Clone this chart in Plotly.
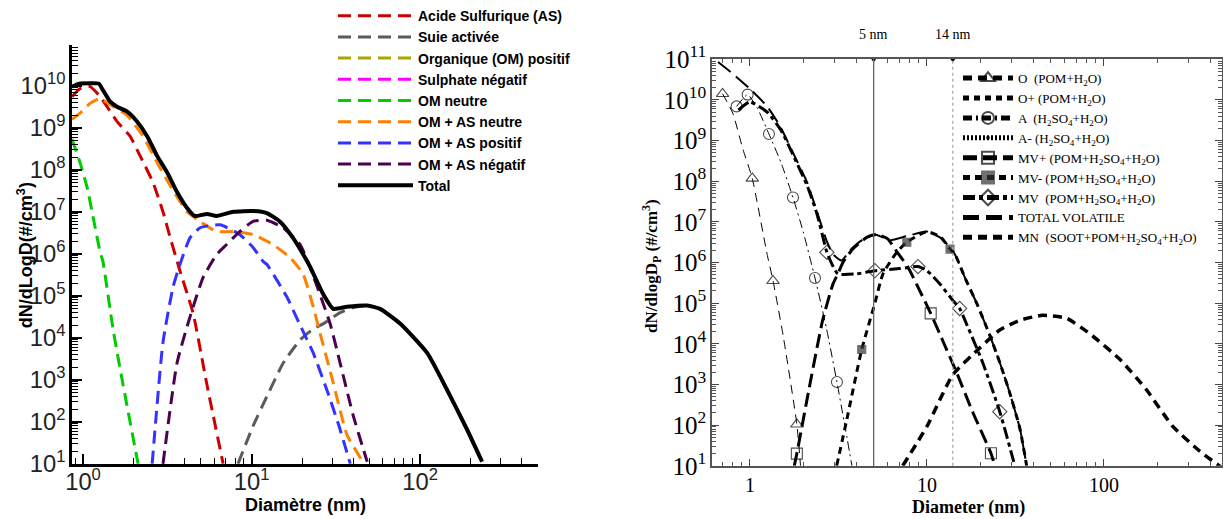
import numpy as np
import plotly.graph_objects as go

W, H = 1223, 519

# ---------------- Left panel data (diameter nm, log10 dN/dlogD) ----------------
as_d = [0.86, 0.96, 1.10, 1.26, 1.39, 1.59, 1.90, 2.18, 2.60, 2.98, 3.28, 3.76, 4.50, 5.44, 6.78]
as_log = [9.74, 9.93, 9.98, 9.75, 9.50, 9.15, 8.80, 8.33, 7.70, 7.00, 6.40, 5.59, 4.58, 2.87, 1.00]

suie_d = [8.3, 10.2, 12.3, 15.4, 19.4, 23.0, 27.0, 33.5, 40.0, 48.5, 57.8, 76.0, 110.0, 144.0, 189.0, 233.0]
suie_log = [1.00, 1.90, 2.60, 3.40, 3.95, 4.20, 4.35, 4.60, 4.72, 4.77, 4.69, 4.34, 3.64, 2.77, 1.83, 1.05]

omp_d, omp_log = [None], [None]      # Organique (OM) positif : not visible in range
sulf_d, sulf_log = [None], [None]    # Sulphate négatif : not visible in range

omn_d = [0.86, 0.96, 1.06, 1.15, 1.26, 1.31, 1.51, 1.73, 2.12]
omn_log = [8.73, 8.17, 7.56, 6.85, 6.06, 5.83, 4.18, 2.87, 1.00]

omas_n_d = [0.86, 0.96, 1.10, 1.26, 1.45, 1.82, 2.27, 2.75, 3.28, 4.14, 4.95, 6.2, 7.8, 10.2, 13.4, 16.9, 20.2, 23.2, 25.5, 30.5, 36.8, 45.7]
omas_n_log = [9.20, 9.35, 9.58, 9.70, 9.55, 9.30, 8.80, 8.17, 7.63, 7.00, 6.77, 6.53, 6.53, 6.46, 6.22, 5.91, 5.52, 4.74, 4.10, 2.93, 1.69, 1.05]

omas_p_d = [2.57, 2.98, 3.42, 3.76, 4.31, 4.95, 6.5, 8.5, 10.2, 11.7, 12.3, 16.2, 19.4, 23.2, 28.3, 33.0, 38.5]
omas_p_log = [1.00, 3.89, 5.21, 5.75, 6.38, 6.62, 6.69, 6.46, 6.15, 5.82, 5.75, 4.97, 4.30, 3.64, 2.70, 1.90, 1.00]

omas_m_d = [2.98, 3.61, 4.31, 5.16, 6.2, 7.1, 8.5, 10.2, 12.3, 15.4, 19.4, 22.2, 29.2, 33.5, 40.0, 48.5]
omas_m_log = [1.00, 3.40, 4.50, 5.44, 5.98, 6.22, 6.53, 6.77, 6.80, 6.62, 6.22, 5.68, 4.34, 3.40, 2.16, 1.05]

tot_d = [0.86, 0.95, 1.10, 1.24, 1.31, 1.45, 1.59, 1.82, 2.09, 2.40, 2.75, 3.15, 3.61, 4.14, 4.60, 5.44, 6.2, 7.8, 10.2, 12.3, 14.7, 17.6, 21.3, 22.3, 26.5, 30.5, 36.8, 48.5, 57.8, 76.0, 110.0, 144.0, 189.0, 233.0]
tot_log = [9.98, 10.05, 10.06, 10.05, 9.90, 9.62, 9.50, 9.39, 9.15, 8.80, 8.33, 7.94, 7.47, 7.09, 6.90, 6.95, 6.90, 7.00, 7.02, 6.97, 6.77, 6.38, 5.83, 5.68, 5.05, 4.69, 4.74, 4.77, 4.69, 4.34, 3.64, 2.77, 1.83, 1.05]

left_names = ["Acide Sulfurique (AS)", "Suie activée", "Organique (OM) positif", "Sulphate négatif",
              "OM neutre", "OM + AS neutre", "OM + AS positif", "OM + AS négatif"]

# ---------------- Right panel data (diameter nm, log10 dN/dlogDp) ----------------
o_d = [0.70, 0.80, 0.91, 1.03, 1.25, 1.35, 1.54, 1.84, 1.93]
o_log = [10.15, 9.67, 8.80, 8.07, 6.20, 5.55, 4.20, 2.02, 1.00]
o_mk_d = [0.70, 1.03, 1.35, 1.84]

a_d = [0.84, 0.97, 1.10, 1.28, 1.50, 1.75, 2.00, 2.33, 2.70, 3.10, 3.40, 3.77]
a_log = [9.84, 10.13, 9.80, 9.16, 8.45, 7.60, 6.75, 5.62, 4.40, 3.06, 2.10, 1.00]
a_mk_d = [0.84, 0.97, 1.28, 1.75, 2.33, 3.10]

oplus_d, oplus_log, oplus_mk_d = [None], [None], []
aminus_d, aminus_log, aminus_mk_d = [None], [None], []

mvp_d = [1.78, 1.84, 2.18, 2.58, 2.95, 3.14, 3.35, 3.81, 4.57, 5.2, 6.0, 6.8, 7.8, 9.1, 10.5, 12.3, 14.7, 18.1, 23.0, 24.2]
mvp_log = [1.00, 1.30, 3.00, 4.60, 5.48, 5.72, 6.00, 6.33, 6.62, 6.69, 6.58, 6.25, 5.89, 5.31, 4.75, 4.07, 3.30, 2.33, 1.31, 1.00]
mvp_mk_d = [1.84, 10.5, 23.0]

mvm_d = [3.09, 3.51, 4.28, 5.08, 5.64, 6.75, 7.7, 10.0, 12.0, 13.5, 14.4, 16.5, 19.1, 22.7, 25.8, 29.3, 33.5, 36.6]
mvm_log = [1.00, 2.10, 3.86, 5.00, 5.72, 6.25, 6.50, 6.76, 6.62, 6.33, 6.20, 5.60, 5.00, 4.20, 3.54, 2.81, 1.92, 1.00]
mvm_mk_d = [4.28, 7.7, 13.5]

mv_d = [0.86, 1.00, 1.25, 1.50, 1.75, 2.10, 2.39, 2.72, 2.95, 3.14, 4.0, 5.08, 7.0, 8.9, 10.0, 11.8, 14.0, 15.3, 16.7, 20.7, 25.8, 31.4]
mv_log = [9.75, 9.95, 9.70, 9.25, 8.65, 7.90, 7.20, 6.25, 5.90, 5.72, 5.72, 5.80, 5.85, 5.90, 5.80, 5.48, 5.07, 4.87, 4.50, 3.53, 2.33, 1.00]
mv_mk_d = [2.72, 5.08, 8.9, 15.3, 25.8]

tv_d = [0.66, 0.80, 1.00, 1.25, 1.48, 1.75, 2.10, 2.39, 2.72, 2.95, 3.30, 3.67, 4.30, 5.08, 6.2, 7.7, 10.0, 12.0, 13.5, 14.4, 16.5, 19.1, 22.7, 25.8, 29.3, 33.5, 36.6]
tv_log = [10.93, 10.64, 10.27, 9.84, 9.35, 8.70, 7.98, 7.25, 6.52, 6.20, 6.05, 6.30, 6.55, 6.69, 6.55, 6.65, 6.76, 6.60, 6.37, 6.20, 5.60, 5.00, 4.20, 3.54, 2.81, 1.92, 1.00]

mn_d = [7.3, 10.0, 14.0, 19.9, 25.8, 33.5, 45.0, 61.5, 86.0, 123.0, 174.0, 245.0, 348.0, 465.0]
mn_log = [1.00, 1.97, 3.24, 3.90, 4.34, 4.58, 4.70, 4.63, 4.20, 3.62, 2.87, 1.97, 1.36, 0.95]

ref_diams = [5, 14]
ref_labels = ["5 nm", "14 nm"]

right_names = ["O  (POM+H<sub>2</sub>O)", "O+ (POM+H<sub>2</sub>O)", "A  (H<sub>2</sub>SO<sub>4</sub>+H<sub>2</sub>O)",
               "A- (H<sub>2</sub>SO<sub>4</sub>+H<sub>2</sub>O)", "MV+ (POM+H<sub>2</sub>SO<sub>4</sub>+H<sub>2</sub>O)",
               "MV- (POM+H<sub>2</sub>SO<sub>4</sub>+H<sub>2</sub>O)", "MV  (POM+H<sub>2</sub>SO<sub>4</sub>+H<sub>2</sub>O)",
               "TOTAL VOLATILE", "MN  (SOOT+POM+H<sub>2</sub>SO<sub>4</sub>+H<sub>2</sub>O)"]


def vals(logs):
    return [None if v is None else 10 ** v for v in logs]


fig = go.Figure()

# ---- left traces ----
left_data = [(as_d, as_log, "#cc0000"), (suie_d, suie_log, "#5a5a5a"), (omp_d, omp_log, "#a8a800"),
             (sulf_d, sulf_log, "#ff00ff"), (omn_d, omn_log, "#00cc00"), (omas_n_d, omas_n_log, "#ff8000"),
             (omas_p_d, omas_p_log, "#3333ff"), (omas_m_d, omas_m_log, "#4d0050")]
for name, (d, lg, col) in zip(left_names, left_data):
    fig.add_trace(go.Scatter(x=d, y=vals(lg), name=name, mode="lines", xaxis="x", yaxis="y",
                             line=dict(color=col, width=3, dash="13px,7px", shape="spline", smoothing=0.5),
                             legend="legend"))
fig.add_trace(go.Scatter(x=tot_d, y=vals(tot_log), name="Total", mode="lines", xaxis="x", yaxis="y",
                         line=dict(color="black", width=4, shape="spline", smoothing=0.5), legend="legend"))


# ---- right traces ----
def add_right(name, d, lg, mk_d, symbol, dash, width, size=11, mcolor="black"):
    sizes = [size if (x is not None and any(abs(x - m) < 1e-9 for m in mk_d)) else 0 for x in d]
    fig.add_trace(go.Scatter(x=d, y=vals(lg), name=name, mode="lines+markers", xaxis="x2", yaxis="y2",
                             line=dict(color="black", width=width, dash=dash, shape="spline", smoothing=0.5),
                             marker=dict(symbol=symbol, size=sizes, color=mcolor,
                                         line=dict(color=mcolor, width=1.1)),
                             legend="legend2"))


add_right(right_names[0], o_d, o_log, o_mk_d, "triangle-up-open", "9px,6px", 1)
add_right(right_names[1], oplus_d, oplus_log, oplus_mk_d, "triangle-up", "6px,5px", 1)
add_right(right_names[2], a_d, a_log, a_mk_d, "circle-open", "9px,4px,2px,4px", 1)
add_right(right_names[3], aminus_d, aminus_log, aminus_mk_d, "circle", "2px,2px", 1)
add_right(right_names[4], mvp_d, mvp_log, mvp_mk_d, "square-open", "14px,6px", 3)
add_right(right_names[5], mvm_d, mvm_log, mvm_mk_d, "square", "7px,5px", 3, size=8, mcolor="#333333")
add_right(right_names[6], mv_d, mv_log, mv_mk_d, "diamond-open", "12px,4px,4px,4px", 3)
fig.add_trace(go.Scatter(x=tv_d, y=vals(tv_log), name=right_names[7], mode="lines", xaxis="x2", yaxis="y2",
                         line=dict(color="black", width=2, dash="16px,7px", shape="spline", smoothing=0.5),
                         legend="legend2"))
fig.add_trace(go.Scatter(x=mn_d, y=vals(mn_log), name=right_names[8], mode="lines", xaxis="x2", yaxis="y2",
                         line=dict(color="black", width=3.5, dash="9px,6px", shape="spline", smoothing=0.5),
                         legend="legend2"))

# reference diameter lines
for dval, col, dsh in zip(ref_diams, ["#666666", "#aaaaaa"], ["solid", "dot"]):
    fig.add_shape(type="line", xref="x2", yref="y2 domain", x0=dval, x1=dval, y0=0, y1=1,
                  line=dict(color=col, width=1.3, dash=dsh))
fig.add_trace(go.Scatter(x=ref_diams, y=[10 ** 11] * len(ref_diams), mode="markers", xaxis="x2", yaxis="y2",
                         marker=dict(symbol="triangle-down", size=6, color="black"), showlegend=False,
                         cliponaxis=False, hoverinfo="skip"))
for dval, lab in zip(ref_diams, ref_labels):
    fig.add_annotation(x=np.log10(dval), y=(H - 27) / H, xref="x2", yref="paper", text=lab, showarrow=False,
                       xanchor="center", yanchor="middle",
                       font=dict(family="Liberation Serif", size=14, color="black"))

sans = "Liberation Sans"
serif = "Liberation Serif"
alias = {"1": "10<sup>0</sup>", "10": "10<sup>1</sup>"}

common_left = dict(type="log", showgrid=False, zeroline=False, showline=True, linecolor="black", linewidth=2.5,
                   ticks="inside", ticklen=10, tickwidth=2, tickcolor="black", dtick=1, exponentformat="power",
                   labelalias=alias, tickfont=dict(family=sans, size=19, color="#222222"),
                   minor=dict(ticks="inside", ticklen=6, tickwidth=1.3, tickcolor="black", dtick="D1"),
                   automargin=False)
common_right = dict(type="log", showgrid=False, zeroline=False, showline=True, linecolor="#555555", linewidth=1.5,
                    mirror="allticks", ticks="inside", ticklen=7, tickwidth=1.3, tickcolor="#444444", dtick=1,
                    tickfont=dict(family=serif, size=20, color="black"),
                    minor=dict(ticks="inside", ticklen=4, tickwidth=1, tickcolor="#555555", dtick="D1"),
                    automargin=False)

fig.update_layout(
    width=W, height=H, margin=dict(l=0, r=0, t=0, b=0),
    paper_bgcolor="white", plot_bgcolor="white",
    xaxis=dict(domain=[72 / W, 538 / W], anchor="y", range=[np.log10(0.86), np.log10(500)],
               ticklabelstandoff=-4, **common_left),
    yaxis=dict(domain=[(H - 463) / H, (H - 38) / H], anchor="x", range=[1, 10.96], **common_left),
    xaxis2=dict(domain=[712 / W, 1222 / W], anchor="y2", range=[np.log10(0.61), np.log10(465)],
                **common_right),
    yaxis2=dict(domain=[(H - 465) / H, (H - 52) / H], anchor="x2", range=[0.999, 11.001],
                exponentformat="power", labelalias=alias, **common_right),
    legend=dict(x=333 / W, y=1 + 8 / H, xanchor="left", yanchor="top", bgcolor="rgba(0,0,0,0)",
                font=dict(family=sans, size=14, color="black", weight="bold"), itemwidth=75,
                tracegroupgap=0),
    legend2=dict(x=958 / W, y=1 - 56 / H, xanchor="left", yanchor="top", bgcolor="rgba(0,0,0,0)",
                 font=dict(family=serif, size=13, color="black"), itemwidth=50, itemsizing="constant",
                 tracegroupgap=0),
    showlegend=True,
)

fig.add_annotation(x=25 / W, y=(H - 251) / H, xref="paper", yref="paper", text="<b>dN/dLogD(#/cm<sup>3</sup>)</b>",
                   textangle=-90, showarrow=False, xanchor="center", yanchor="middle",
                   font=dict(family=sans, size=18, color="black"))
fig.add_annotation(x=305 / W, y=(H - 505) / H, xref="paper", yref="paper", text="<b>Diamètre (nm)</b>",
                   showarrow=False, xanchor="center", yanchor="middle",
                   font=dict(family=sans, size=18, color="black"))
fig.add_annotation(x=652 / W, y=(H - 262) / H, xref="paper", yref="paper",
                   text="<b>dN/dlogD<sub>P</sub> (#/cm<sup>3</sup>)</b>",
                   textangle=-90, showarrow=False, xanchor="center", yanchor="middle",
                   font=dict(family=serif, size=17, color="black"))
fig.add_annotation(x=968 / W, y=(H - 507) / H, xref="paper", yref="paper", text="<b>Diameter (nm)</b>",
                   showarrow=False, xanchor="center", yanchor="middle",
                   font=dict(family=serif, size=18, color="black"))

fig.write_html("out.html", config={"displayModeBar": False},
               post_script="document.body.style.margin='0';document.body.style.overflow='hidden';")
